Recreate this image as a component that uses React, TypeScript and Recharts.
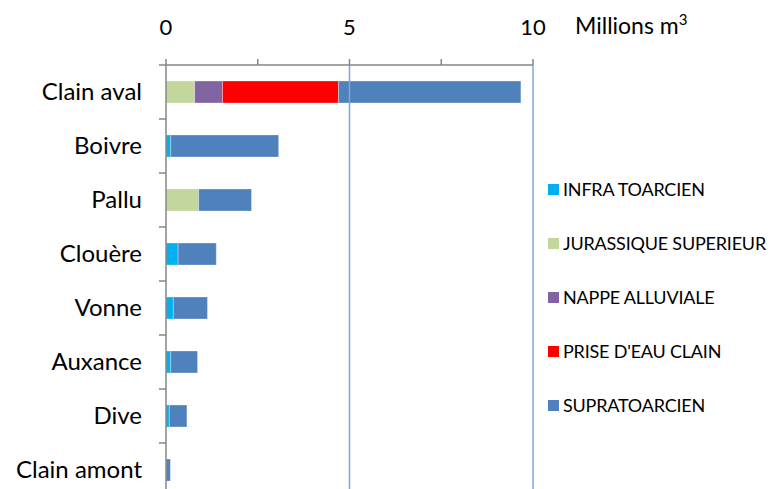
import React from 'react';
import { BarChart, Bar, XAxis, YAxis, Legend, ReferenceLine } from 'recharts';

const categories = ['Clain aval', 'Boivre', 'Pallu', 'Clouère', 'Vonne', 'Auxance', 'Dive', 'Clain amont'];
const infraToarcien = [0, 0.13, 0, 0.33, 0.2, 0.13, 0.09, 0];
const jurassiqueSuperieur = [0.78, 0, 0.89, 0, 0, 0, 0, 0];
const nappeAlluviale = [0.76, 0, 0, 0, 0, 0, 0, 0];
const priseEauClain = [3.16, 0, 0, 0, 0, 0, 0, 0];
const supratoarcien = [4.97, 2.94, 1.44, 1.04, 0.93, 0.73, 0.48, 0.12];
const xTicks = [0, 2.5, 5, 7.5, 10];
const gridLines = [5, 10];

const seriesDefs = [
  { key: 'infra', name: 'INFRA TOARCIEN', color: '#00B0F0', values: infraToarcien },
  { key: 'jura', name: 'JURASSIQUE SUPERIEUR', color: '#C3D69B', values: jurassiqueSuperieur },
  { key: 'nappe', name: 'NAPPE ALLUVIALE', color: '#8064A2', values: nappeAlluviale },
  { key: 'prise', name: "PRISE D'EAU CLAIN", color: '#FF0000', values: priseEauClain },
  { key: 'supra', name: 'SUPRATOARCIEN', color: '#4F81BD', values: supratoarcien },
];

const data = categories.map((name, i) => {
  const row: any = { name };
  seriesDefs.forEach((s) => { row[s.key] = s.values[i]; });
  return row;
});

const FONT = 'Lato, "Liberation Sans", sans-serif';
const CHART_H = 500;
const TOP = 65;
const BOTTOM = 3;
const BAND = (CHART_H - TOP - BOTTOM) / categories.length;

const CategoryTick = (props: any) => {
  const { x, y, payload } = props;
  return (
    <g>
      <line x1={x - 7} x2={x} y1={y - BAND / 2} y2={y - BAND / 2} stroke="#868686" strokeWidth={1.5} />
      <text x={x - 24} y={y} dy={8} textAnchor="end" fill="#000" fontSize={24} fontFamily={FONT}>
        {payload.value}
      </text>
    </g>
  );
};

const LegendContent = () => (
  <div style={{ fontFamily: FONT, fontSize: 18, color: '#000' }}>
    {seriesDefs.map((s) => (
      <div key={s.key} style={{ height: 54, display: 'flex', alignItems: 'center' }}>
        <span style={{ display: 'inline-block', width: 11, height: 11, background: s.color, marginRight: 4 }} />
        <span style={{ letterSpacing: -0.2 }}>{s.name}</span>
      </div>
    ))}
  </div>
);

const UnitLabel = (props: any) => {
  const vb = props.viewBox || {};
  return (
    <text x={vb.x + vb.width + 42} y={34} fontSize={23} fontFamily={FONT} fill="#000">
      Millions m<tspan fontSize={15} dy={-9}>3</tspan>
    </text>
  );
};

export default function App() {
  return (
    <div style={{ position: 'fixed', left: 0, top: 0, width: 772, height: 489, overflow: 'hidden', background: '#fff' }}>
      <BarChart
        width={772}
        height={CHART_H}
        data={data}
        layout="vertical"
        margin={{ top: 0, right: 239, bottom: BOTTOM, left: 0 }}
        barSize={22}
      >
        {gridLines.map((g) => (
          <ReferenceLine key={g} x={g} stroke="#7FA8DA" strokeWidth={1.5} />
        ))}
        <XAxis
          type="number"
          orientation="top"
          domain={[0, 10]}
          ticks={xTicks}
          interval={0}
          height={TOP}
          tickFormatter={(v: number) => (v % 5 === 0 ? String(v) : '')}
          tick={{ fill: '#000', fontSize: 22, fontFamily: FONT }}
          tickSize={6}
          tickMargin={24}
          stroke="#868686"
          strokeWidth={1.5}
          label={<UnitLabel />}
        />
        <YAxis
          type="category"
          dataKey="name"
          width={166}
          tick={<CategoryTick />}
          tickLine={false}
          tickSize={0}
          tickMargin={0}
          interval={0}
          stroke="#868686"
          strokeWidth={1.5}
        />
        {seriesDefs.map((s) => (
          <Bar
            key={s.key}
            dataKey={s.key}
            name={s.name}
            stackId="a"
            fill={s.color}
            stroke="rgba(255,255,255,0.3)"
            strokeWidth={1}
            isAnimationActive={false}
          />
        ))}
        <Legend
          layout="vertical"
          align="center"
          verticalAlign="middle"
          content={<LegendContent />}
          wrapperStyle={{ left: 548, top: 162, width: 224 }}
        />
      </BarChart>
    </div>
  );
}
